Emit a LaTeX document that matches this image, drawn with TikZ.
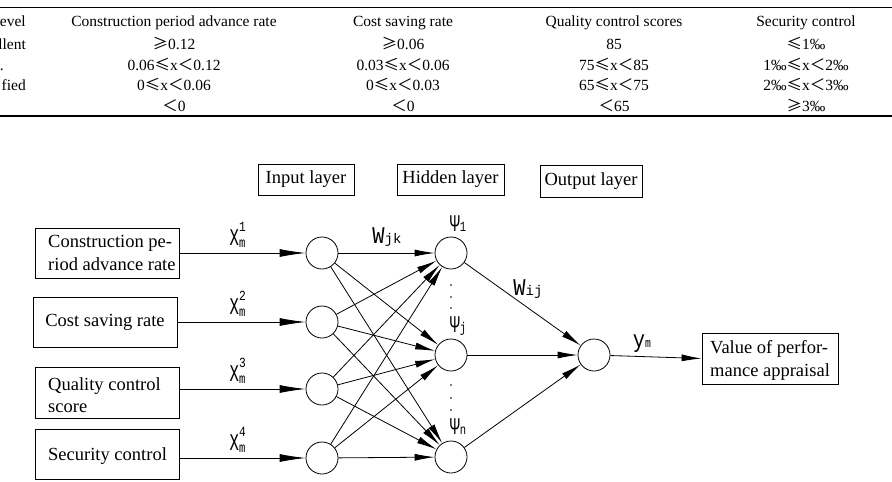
\documentclass[tikz,border=0pt]{standalone}
\usepackage{fontspec}
\setmainfont{Liberation Serif}
\newfontfamily\labfont{Liberation Mono}
\newfontfamily\cjkfont{Noto Sans CJK SC}
\usepackage{graphicx}
\usetikzlibrary{arrows.meta}
\newcommand{\mge}{{\cjkfont ≥}}
\newcommand{\mle}{{\cjkfont ≤}}
\newcommand{\mlt}{{\cjkfont ＜}}
\newcommand{\xlab}[1]{$\hbox{\labfont\scalebox{0.65}[1]{\fontsize{24pt}{24pt}\selectfont X}}^{\hbox{\labfont\scalebox{0.8}[1]{\fontsize{14pt}{14pt}\selectfont #1}}}_{\hbox{\labfont\scalebox{0.75}[1]{\fontsize{14pt}{14pt}\selectfont m}}}$}
\newcommand{\psilab}[1]{{\labfont\scalebox{0.7}[1]{\fontsize{24pt}{24pt}\selectfont Ψ}\scalebox{0.75}[1]{\fontsize{14pt}{14pt}\selectfont #1}}}
\newcommand{\wlab}[1]{{\labfont\scalebox{0.85}[1]{\fontsize{24pt}{24pt}\selectfont W}\fontsize{14pt}{14pt}\selectfont #1}}
\begin{document}
\begin{tikzpicture}[x=1pt,y=-1pt,
  tcell/.style={font=\fontsize{15.5pt}{18pt}\selectfont, inner sep=0pt, anchor=base},
  tfrag/.style={font=\fontsize{15.5pt}{18pt}\selectfont, inner sep=0pt, anchor=base east},
  rule/.style={line width=1.2pt},
  neuron/.style={circle, draw, line width=0.8pt, minimum size=32pt, inner sep=0pt},
  lbox/.style={draw, line width=0.8pt, inner sep=0pt},
  btext/.style={font=\fontsize{18.5pt}{22.5pt}\selectfont, inner sep=0pt, align=left},
  lay/.style={draw, line width=0.8pt, inner sep=0pt, font=\fontsize{18.5pt}{22pt}\selectfont},
  arr/.style={line width=0.8pt, -{Latex[length=20pt,width=7pt]}},
  arrin/.style={line width=0.8pt, -{Latex[length=26pt,width=8pt]}},
  dot/.style={circle, fill, inner sep=0pt, minimum size=1.6pt},
  wl/.style={inner sep=0pt}
]
\useasboundingbox (0,0) rectangle (892,482);

% ---------- table ----------
\coordinate (tl) at (0,7.5);
\coordinate (tr) at (892,7.5);
\coordinate (bl) at (0,116);
\coordinate (br) at (892,116);
\draw[rule] (tl) -- (tr);
\draw[rule] (bl) -- (br);

\node[tfrag] (c00) at (26,26) {evel};
\node[tfrag] (c10) at (26,49) {llent};
\node[tfrag] (c20) at (4,70) {.};
\node[tfrag] (c30) at (26,90.5) {fied};

\node[tcell] (c01) at (174,26) {Construction period advance rate};
\node[tcell] (c02) at (403,26) {Cost saving rate};
\node[tcell] (c03) at (614,26) {Quality control scores};
\node[tcell] (c04) at (806,26) {Security control};

\node[tcell] (c11) at (174,49) {\mge0.12};
\node[tcell] (c12) at (403,49) {\mge0.06};
\node[tcell] (c13) at (614,49) {85};
\node[tcell] (c14) at (806,49) {\mle1‰};

\node[tcell] (c21) at (174,70) {0.06\mle x\mlt0.12};
\node[tcell] (c22) at (403,70) {0.03\mle x\mlt0.06};
\node[tcell] (c23) at (614,70) {75\mle x\mlt85};
\node[tcell] (c24) at (806,70) {1‰\mle x\mlt2‰};

\node[tcell] (c31) at (174,90.5) {0\mle x\mlt0.06};
\node[tcell] (c32) at (403,90.5) {0\mle x\mlt0.03};
\node[tcell] (c33) at (614,90.5) {65\mle x\mlt75};
\node[tcell] (c34) at (806,90.5) {2‰\mle x\mlt3‰};

\node[tcell] (c41) at (174,111.5) {\mlt0};
\node[tcell] (c42) at (403,111.5) {\mlt0};
\node[tcell] (c43) at (614,111.5) {\mlt65};
\node[tcell] (c44) at (806,111.5) {\mge3‰};

% ---------- layer labels ----------
\node[lay, minimum width=96pt, minimum height=31pt] (Lin) at (306,179.5) {Input layer};
\node[lay, minimum width=107pt, minimum height=31pt] (Lhid) at (450.5,179.5) {Hidden layer};
\node[lay, minimum width=102pt, minimum height=32pt] (Lout) at (591,181) {Output layer};

% ---------- left boxes ----------
\node[lbox, minimum width=144pt, minimum height=50pt] (b1) at (107,253) {};
\node[btext, anchor=west] (t1) at (48,253) {Construction pe-\\riod advance rate};
\node[lbox, minimum width=144pt, minimum height=50pt] (b2) at (105,322) {};
\node[btext] (t2) at (105,322) {Cost saving rate};
\node[lbox, minimum width=144pt, minimum height=51pt] (b3) at (107,392.5) {};
\node[btext, anchor=west] (t3) at (48,395) {Quality control\\score};
\node[lbox, minimum width=144pt, minimum height=50pt] (b4) at (107,454) {};
\node[btext, anchor=west] (t4) at (48,456) {Security control};

% ---------- neurons ----------
\node[neuron] (i1) at (322,253) {};
\node[neuron] (i2) at (322,322) {};
\node[neuron] (i3) at (322,389) {};
\node[neuron] (i4) at (322,458) {};
\node[neuron] (h1) at (451,253) {};
\node[neuron] (h2) at (451,355) {};
\node[neuron] (h3) at (451,457) {};
\node[neuron] (o) at (594,355) {};

% ---------- output box ----------
\node[lbox, minimum width=136pt, minimum height=51pt] (ob) at (770,358.5) {};
\node[btext, anchor=west] (ot) at (710,360.5) {Value of perfor-\\mance appraisal};

% ---------- connectors ----------
\draw[arrin] (b1.east |- i1) -- (i1);
\draw[arrin] (b2.east |- i2) -- (i2);
\draw[arrin] (b3.east |- i3) -- (i3);
\draw[arrin] (b4.east |- i4) -- (i4);
\foreach \i in {1,...,4}{
  \foreach \h in {1,2,3}{
    \draw[arr] (i\i) -- (h\h);
  }
}
\draw[arr] (h1) -- (o);
\draw[arr] (h2) -- (o);
\draw[arr] (h3) -- (o);
\draw[arr] (o) -- (ob.west);

% ---------- dots ----------
\node[dot] (d1) at (451,285) {};
\node[dot] (d2) at (451,297) {};
\node[dot] (d3) at (451,308) {};
\node[dot] (d4) at (451,385) {};
\node[dot] (d5) at (451,398) {};
\node[dot] (d6) at (451,410) {};

% ---------- labels ----------
\node[wl] (x1) at (238,235) {\xlab{1}};
\node[wl] (x2) at (238,304) {\xlab{2}};
\node[wl] (x3) at (238,371) {\xlab{3}};
\node[wl] (x4) at (238,440) {\xlab{4}};
\node[wl] (wjk) at (387,237) {\wlab{jk}};
\node[wl] (wij) at (528,289) {\wlab{ij}};
\node[wl] (ym) at (642,344) {{\labfont\scalebox{0.85}[1]{\fontsize{24pt}{24pt}\selectfont y}\scalebox{0.75}[1]{\fontsize{13pt}{13pt}\selectfont m}}};
\node[wl] (p1) at (458,224) {\psilab{1}};
\node[wl] (pj) at (458,326) {\psilab{j}};
\node[wl] (pn) at (458,427) {\psilab{n}};
\end{tikzpicture}
\end{document}
